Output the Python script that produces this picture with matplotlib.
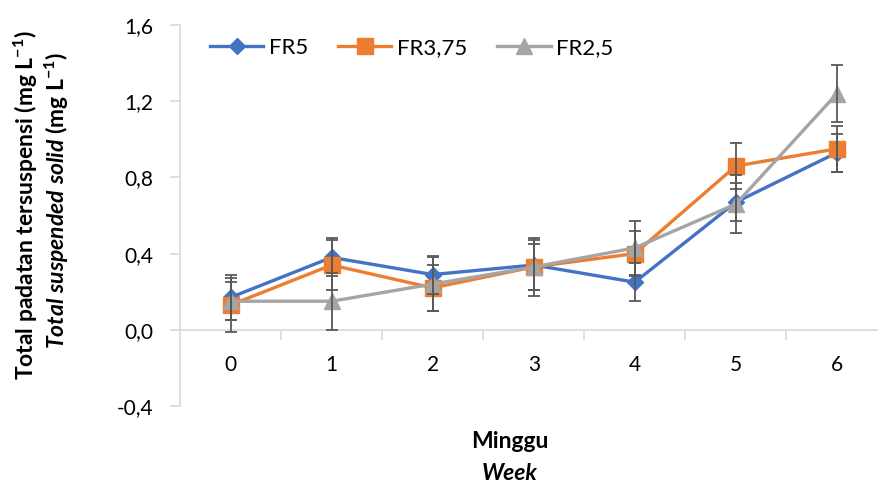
import matplotlib
matplotlib.use("Agg")
import matplotlib.pyplot as plt
from matplotlib.ticker import FixedLocator, FuncFormatter

plt.rcParams['font.family'] = ['Lato', 'DejaVu Sans']
plt.rcParams['mathtext.fontset'] = 'custom'
plt.rcParams['mathtext.rm'] = 'Lato:bold'
plt.rcParams['mathtext.it'] = 'Lato:italic:bold'
plt.rcParams['mathtext.bf'] = 'Lato:bold'

weeks = [0, 1, 2, 3, 4, 5, 6]
fr5 = [0.17, 0.38, 0.29, 0.34, 0.25, 0.67, 0.93]
fr5_err = [0.12, 0.10, 0.10, 0.13, 0.10, 0.10, 0.10]
fr375 = [0.13, 0.34, 0.22, 0.33, 0.40, 0.86, 0.95]
fr375_err = [0.14, 0.13, 0.12, 0.12, 0.12, 0.12, 0.12]
fr25 = [0.15, 0.15, 0.24, 0.33, 0.43, 0.66, 1.24]
fr25_err = [0.10, 0.15, 0.14, 0.15, 0.14, 0.15, 0.15]
labels = ['FR5', 'FR3,75', 'FR2,5']
yticks = [-0.4, 0.0, 0.4, 0.8, 1.2, 1.6]

fig = plt.figure(figsize=(8.79, 4.83), dpi=100)
ax = fig.add_axes([180/879, 1-406/483, 707.5/879, 381/483])

series = [
    (fr5, fr5_err, '#4472C4', 'D', 8),
    (fr375, fr375_err, '#ED7D31', 's', 11.5),
    (fr25, fr25_err, '#A5A5A5', '^', 12),
]
for (vals, err, col, mk, ms), lab in zip(series, labels):
    ax.plot(weeks, vals, color=col, lw=2.4, marker=mk, markersize=ms,
            label=lab, zorder=3, solid_joinstyle='round')
    ax.errorbar(weeks, vals, yerr=err, fmt='none', ecolor='#595959',
                elinewidth=1.3, capsize=4, capthick=1.3, zorder=3.5)

ax.set_xlim(-0.5, 6.5)
ax.set_ylim(-0.4, 1.6)
ax.spines['top'].set_visible(False)
ax.spines['right'].set_visible(False)
ax.spines['bottom'].set_position(('data', 0))
for s in ('left', 'bottom'):
    ax.spines[s].set_color('#D9D9D9')
    ax.spines[s].set_linewidth(1.2)

ax.xaxis.set_major_locator(FixedLocator(weeks))
ax.xaxis.set_minor_locator(FixedLocator([w + 0.5 for w in weeks[:-1]]))
ax.set_xticklabels([str(w) for w in weeks])
ax.tick_params(axis='x', which='major', length=0, pad=18, labelsize=15)
ax.tick_params(axis='x', which='minor', length=7, width=1.2, color='#D9D9D9', direction='out')

ax.yaxis.set_major_locator(FixedLocator(yticks))
ax.yaxis.set_major_formatter(FuncFormatter(lambda v, p: f"{v:.1f}".replace('.', ',')))
ax.tick_params(axis='y', length=7, width=1.2, color='#D9D9D9', pad=12.5, labelsize=15)

leg = ax.legend(loc='center left', bbox_to_anchor=(210/879, 1-48/483),
                bbox_transform=fig.transFigure, ncol=3, frameon=False,
                fontsize=16, handlelength=2.4, handletextpad=0.25, columnspacing=1.35,
                borderpad=0, borderaxespad=0)

fig.text(26/879, 1-205/483, 'Total padatan tersuspensi (mg L$^{-1}$)', rotation=90,
         ha='center', va='center', fontsize=16.5, fontweight='bold')
fig.text(57/879, 1-200/483, r'$\mathit{Total\ suspended\ solid}$ (mg L$^{-1}$)', rotation=90,
         ha='center', va='center', fontsize=16.5, fontweight='bold')
fig.text(510/879, 1-442/483, 'Minggu', ha='center', va='center', fontsize=16.5, fontweight='bold')
fig.text(510/879, 1-474/483, 'Week', ha='center', va='center', fontsize=16.5,
         fontweight='bold', fontstyle='italic')

fig.savefig('out.png', dpi=100)
